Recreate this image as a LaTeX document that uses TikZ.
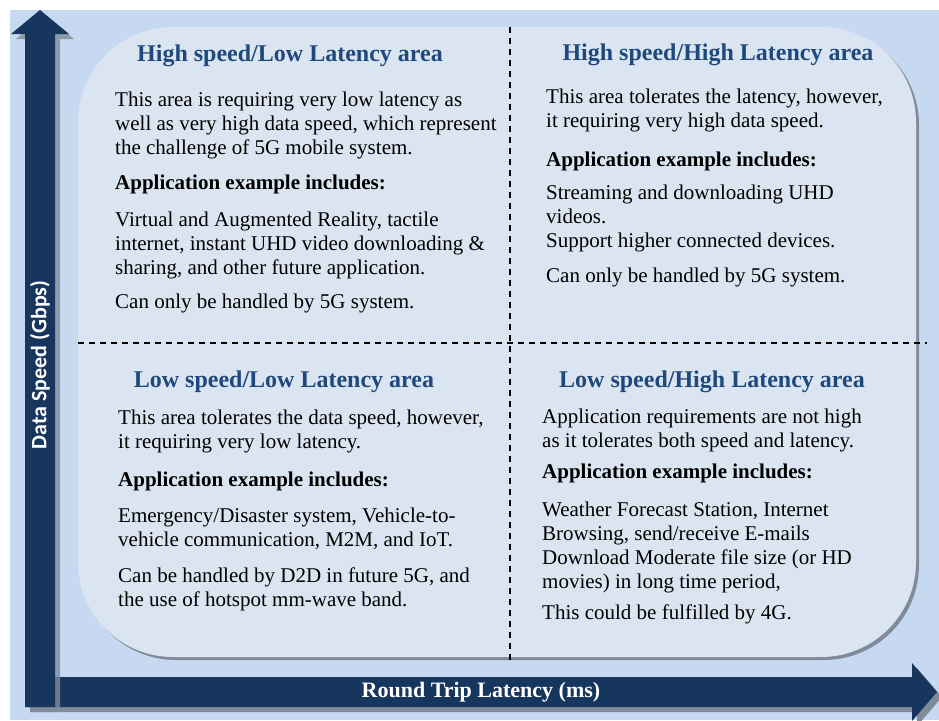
\documentclass[tikz,border=0pt]{standalone}
\usepackage{fontspec}
\setmainfont{Liberation Serif}
\newfontfamily\axisfont{Carlito}
\definecolor{backblue}{RGB}{198,217,240}
\definecolor{paneblue}{RGB}{219,229,241}
\definecolor{arrownavy}{RGB}{23,54,93}
\definecolor{shadowgray}{RGB}{128,139,153}
\definecolor{titleblue}{RGB}{31,73,125}
\begin{document}
\begin{tikzpicture}[x=1pt,y=-1pt,
		areatitle/.style={font=\fontsize{24}{28}\selectfont\bfseries,text=titleblue,inner sep=0pt,anchor=base},
		areatext/.style={font=\fontsize{21}{24}\selectfont,align=left,inner sep=0pt,anchor=north west},
		divider/.style={line width=1.5pt,dash pattern=on 6pt off 5pt}]
		\def\page{(0,0) rectangle (939,720)}
		\def\backdrop{(10,10) rectangle (939,720)}
		\def\pane{[rounded corners=95pt] (78,27) rectangle (916,657)}
		\def\speedarrow{(25,707) -- (25,34) -- (11,34) -- (40,10) -- (69,34) -- (55,34) -- (55,707) -- cycle}
		\def\latencyarrow{(25,677) -- (912,677) -- (912,663) -- (937,692) -- (912,721) -- (912,707) -- (25,707) -- cycle}
		\useasboundingbox \page;
		\fill[backblue] \backdrop;
		\fill[shadowgray,shift={(3,3)}] \pane;
		\fill[paneblue] \pane;
		\draw[divider] (510,27) -- (510,660);
		\draw[divider] (78,343) -- (927,343);
		\fill[shadowgray,shift={(5,5)}] \latencyarrow;
		\fill[arrownavy] \latencyarrow;
		\fill[shadowgray,shift={(5,5)},opacity=0.8] \speedarrow;
		\fill[arrownavy] \speedarrow;
		\node[rotate=90,text=white,font=\axisfont\bfseries\fontsize{22}{26}\selectfont] (speedlabel) at (40,365) {Data Speed (Gbps)};
		\node[text=white,font=\bfseries\fontsize{22}{26}\selectfont] (latencylabel) at (481,692) {Round Trip Latency (ms)};
		\node[areatitle] (hslt) at (290,61) {High speed/Low Latency area};
		\node[areatext] (hslt1) at (115,92) {This area is requiring very low latency as\\well as very high data speed, which represent\\the challenge of 5G mobile system.};
		\node[areatext] (hslt2) at (115,175) {\bfseries Application example includes:};
		\node[areatext] (hslt3) at (115,212) {Virtual and Augmented Reality, tactile\\internet, instant UHD video downloading \&\\sharing, and other future application.};
		\node[areatext] (hslt4) at (115,294) {Can only be handled by 5G system.};
		\node[areatitle] (hsht) at (718,60) {High speed/High Latency area};
		\node[areatext] (hsht1) at (546,89) {This area tolerates the latency, however,\\it requiring very high data speed.};
		\node[areatext] (hsht2) at (546,152) {\bfseries Application example includes:};
		\node[areatext] (hsht3) at (546,185) {Streaming and downloading UHD\\videos.\\Support higher connected devices.};
		\node[areatext] (hsht4) at (546,268) {Can only be handled by 5G system.};
		\node[areatitle] (lslt) at (284,387) {Low speed/Low Latency area};
		\node[areatext] (lslt1) at (118,410) {This area tolerates the data speed, however,\\it requiring very low latency.};
		\node[areatext] (lslt2) at (118,472) {\bfseries Application example includes:};
		\node[areatext] (lslt3) at (118,508) {Emergency/Disaster system, Vehicle-to-\\vehicle communication, M2M, and IoT.};
		\node[areatext] (lslt4) at (118,568) {Can be handled by D2D in future 5G, and\\the use of hotspot mm-wave band.};
		\node[areatitle] (lsht) at (712,387) {Low speed/High Latency area};
		\node[areatext] (lsht1) at (542,409) {Application requirements are not high\\as it tolerates both speed and latency.};
		\node[areatext] (lsht2) at (542,464) {\bfseries Application example includes:};
		\node[areatext] (lsht3) at (542,502) {Weather Forecast Station, Internet\\Browsing, send/receive E-mails\\Download Moderate file size (or HD\\movies) in long time period,};
		\node[areatext] (lsht4) at (542,605) {This could be fulfilled by 4G.};
	\end{tikzpicture}
\end{document}
